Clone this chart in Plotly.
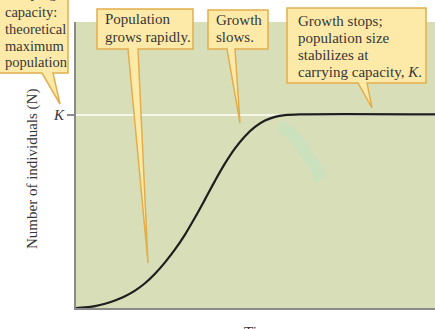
import plotly.graph_objects as go

# ---- data ----
time = [0, 0.9, 1.9, 2.9, 3.9, 4.9, 5.9, 6.9, 7.9, 8.9, 9.9, 10.9, 11.9, 12.9,
        13.9, 14.9, 15.9, 16.9, 17.9, 18.9, 19.9, 20.9, 22.4, 35.9]
population = [0, 3, 10, 22, 39, 61, 90, 128, 177, 236, 303, 380, 468, 562,
              658, 748, 826, 889, 937, 970, 989, 998, 1002, 1002]
K_value = 1000
y_tick_vals = [K_value]
y_tick_text = ["<i>K</i>"]

callout_texts = [
    ["Carrying", "capacity:", "theoretical", "maximum", "population"],
    ["Population", "grows rapidly."],
    ["Growth", "slows."],
    ["Growth stops;", "population size", "stabilizes at", "carrying capacity, <i>K</i>."],
]

# ---- layout helpers (pixels -> paper) ----
W, H = 435, 329
L, R, T, B = 76, 435, 22, 308


def P(x, y):
    return (x - L) / (R - L), (B - y) / (B - T)


def box_path(x0, y0, x1, y1, b1, b2, tx, ty):
    pts = [(x0, y0), (x1, y0), (x1, y1), (b2, y1), (tx, ty), (b1, y1), (x0, y1)]
    s = ""
    for i, (x, y) in enumerate(pts):
        px, py = P(x, y)
        s += ("M" if i == 0 else "L") + f"{px:.5f},{py:.5f} "
    return s + "Z"


SERIF = "Liberation Serif, Times New Roman, serif"
TXT = "#363636"
BOX_FILL = "#fdeaa9"
BOX_LINE = "#e2ae4c"

fig = go.Figure()
fig.add_trace(go.Scatter(x=time, y=population, mode="lines",
                         line=dict(color="#1e1e1e", width=2.2, shape="spline", smoothing=1),
                         hoverinfo="skip", showlegend=False))

shapes = []
annotations = []

# faint green brush stroke in the plot
sx = [(279, 126), (290, 132), (302, 147), (314, 165), (321, 180)]
sp = ""
for i, (x, y) in enumerate(sx):
    a, b = P(x, y)
    sp += ("M" if i == 0 else "L") + f"{a:.5f},{b:.5f} "
shapes.append(dict(type="path", path=sp, xref="paper", yref="paper", layer="below",
                   line=dict(color="rgba(200,225,190,0.8)", width=12)))

boxes = [
    (-6, -10, 68, 73, 42, 53, 60, 104),
    (97, 9, 193, 49, 128, 138, 148, 263),
    (208, 10, 268, 49, 227, 235, 240, 123),
    (287, 8, 426, 83, 358, 367, 372, 108),
]
for bx in boxes:
    shapes.append(dict(type="path", path=box_path(*bx), xref="paper", yref="paper",
                       layer="above", fillcolor=BOX_FILL, line=dict(color=BOX_LINE, width=1.5)))

line_pos = [
    (3, [-7, 12, 29, 46, 62], 14.5),
    (103, [19, 37], 15),
    (214, [20, 37], 15),
    (296, [21, 38, 55, 72], 15),
]
for (x, ys, fs), lines in zip(line_pos, callout_texts):
    for y, t in zip(ys, lines):
        a, b = P(x, y)
        annotations.append(dict(x=a, y=b, xref="paper", yref="paper", text=t, showarrow=False,
                                xanchor="left", yanchor="middle",
                                font=dict(family=SERIF, size=fs, color=TXT)))

# axis titles
a, b = P(259, 322)
annotations.append(dict(x=a, y=b, xref="paper", yref="paper", text="Time", showarrow=False,
                        xanchor="center", yanchor="top", font=dict(family=SERIF, size=15, color=TXT)))
a, b = P(32, 169)
annotations.append(dict(x=a, y=b, xref="paper", yref="paper", text="Number of individuals (N)",
                        showarrow=False, textangle=-90, xanchor="center", yanchor="middle",
                        font=dict(family=SERIF, size=15, color=TXT)))

fig.update_layout(
    width=W, height=H,
    margin=dict(l=L, r=W - R, t=T, b=H - B),
    paper_bgcolor="white", plot_bgcolor="#d8dfb8",
    shapes=shapes, annotations=annotations,
    xaxis=dict(range=[0, 35.9], showticklabels=False, ticks="", showgrid=False, zeroline=False,
               showline=True, linecolor="#8a8a8a", linewidth=2),
    yaxis=dict(range=[0, 1480], tickvals=y_tick_vals, ticktext=y_tick_text, ticks="outside",
               ticklen=7, tickcolor="#8a8a8a", tickwidth=1.5,
               tickfont=dict(family=SERIF, size=15, color=TXT),
               showgrid=True, gridcolor="rgba(250,250,240,0.9)", gridwidth=2, zeroline=False,
               showline=True, linecolor="#8a8a8a", linewidth=2),
)

fig.write_html("out.html")
